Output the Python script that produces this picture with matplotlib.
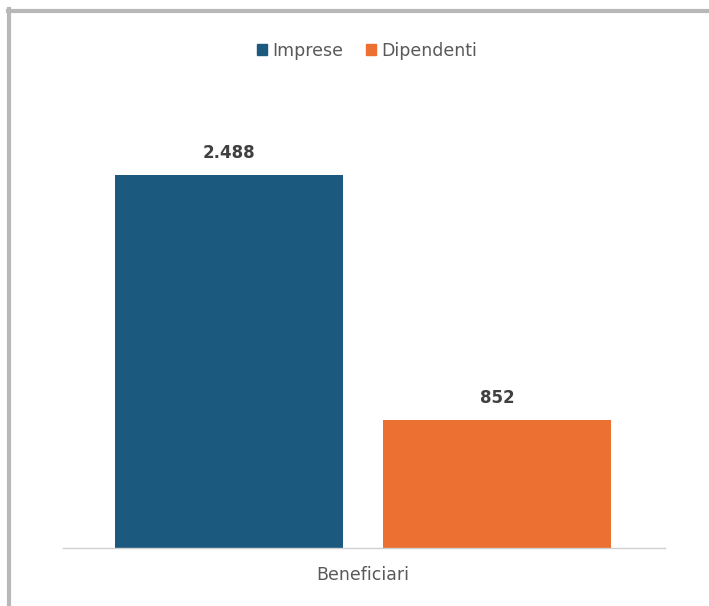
import matplotlib.pyplot as plt
from matplotlib.lines import Line2D
from matplotlib.patches import Patch

series = ["Imprese", "Dipendenti"]
values = [2488, 852]
labels = ["2.488", "852"]
colors = ["#1B5A7E", "#EC7031"]
category = "Beneficiari"

fig = plt.figure(figsize=(7.09, 6.06), dpi=100)
W, H = 709, 606

# gray frame (top and left edges only)
fig.add_artist(Line2D([8 / W, 1.0], [1 - 11 / H, 1 - 11 / H], transform=fig.transFigure,
                      color="#b8b8b8", lw=3))
fig.add_artist(Line2D([9 / W, 9 / W], [0, 1 - 9 / H], transform=fig.transFigure,
                      color="#b8b8b8", lw=3))

ax = fig.add_axes([63 / W, (606 - 548) / H, 602 / W, (548 - 98.3) / H])
x = [0, 1]
ax.bar(x, values, width=0.851, color=colors)
for xi, v, lab in zip(x, values, labels):
    ax.text(xi, v + 90, lab, ha="center", va="bottom", fontsize=12,
            fontweight="bold", color="#404040")

ax.set_xlim(-0.619, 1.627)
ax.set_ylim(0, 3000)
for s in ["top", "right", "left"]:
    ax.spines[s].set_visible(False)
ax.spines["bottom"].set_color("#d0d0d0")
ax.spines["bottom"].set_linewidth(1)
ax.set_yticks([])
ax.set_xticks([0.5])
ax.set_xticklabels([category], fontsize=12.5, color="#595959")
ax.tick_params(axis="x", length=0, pad=13)

handles = [Patch(color=c, label=s) for c, s in zip(colors, series)]
fig.legend(handles=handles, loc="center", bbox_to_anchor=(367 / W, 1 - 51 / H),
           ncol=2, frameon=False, fontsize=12.5, handlelength=0.6, handleheight=0.6,
           handletextpad=0.3, columnspacing=1.3, labelcolor="#595959")

fig.savefig("out.png", dpi=100)
